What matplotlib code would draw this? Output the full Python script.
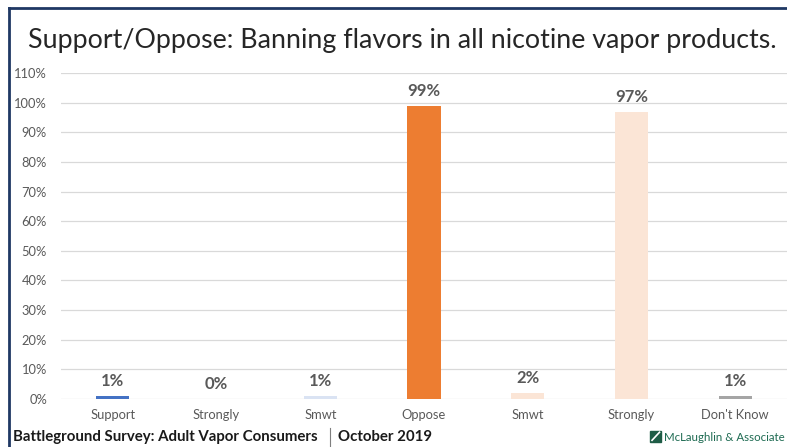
import matplotlib.pyplot as plt
from matplotlib.lines import Line2D
from matplotlib.patches import Rectangle

categories = ["Support", "Strongly", "Smwt", "Oppose", "Smwt", "Strongly", "Don't Know"]
values = [1, 0, 1, 99, 2, 97, 1]
bar_colors = ["#4472C4", "#2F5597", "#DAE3F3", "#ED7D31", "#FBE5D6", "#FBE5D6", "#A5A5A5"]
yticks = list(range(0, 111, 10))

plt.rcParams['font.family'] = ['Lato', 'DejaVu Sans']

fig = plt.figure(figsize=(7.87, 4.47), dpi=100)
ax = fig.add_axes([0.0775, 0.1074, 0.9225, 0.7293])

x = range(len(categories))
ax.bar(x, values, width=0.32, color=bar_colors, zorder=3)
for i, v in enumerate(values):
    ax.text(i, v + 2.3, f"{v}%", ha='center', va='bottom', fontsize=12,
            fontweight='bold', color='#595959', zorder=4)

ax.set_xlim(-0.5, len(categories) - 0.5)
ax.set_ylim(0, 110)
ax.set_yticks(yticks)
ax.set_yticklabels([f"{t}%" for t in yticks])
ax.set_xticks(list(x))
ax.set_xticklabels(categories)
ax.tick_params(axis='both', length=0, colors='#595959', labelsize=9.3)
ax.tick_params(axis='y', pad=10)
ax.tick_params(axis='x', pad=7)
ax.grid(axis='y', color='#D9D9D9', linewidth=0.9, zorder=0)
for s in ax.spines.values():
    s.set_visible(False)

# title
fig.text(0.5115, 0.91, "Support/Oppose: Banning flavors in all nicotine vapor products.",
         ha='center', va='center', fontsize=19.3, color='#262626')

# navy frame on left and top
fig.add_artist(Line2D([0.0115, 0.0115], [0.0, 0.982], color='#1F3864', lw=2))
fig.add_artist(Line2D([0.0115, 1.0], [0.982, 0.982], color='#1F3864', lw=2))

# footer
fig.text(0.017, 0.022, "Battleground Survey: Adult Vapor Consumers", ha='left', va='center',
         fontsize=10.8, fontweight='bold', color='#1a1a1a')
fig.add_artist(Line2D([0.4195, 0.4195], [0.003, 0.043], color='#7F7F7F', lw=0.8))
fig.text(0.4295, 0.022, "October 2019", ha='left', va='center',
         fontsize=10.8, fontweight='bold', color='#1a1a1a')
fig.add_artist(Rectangle((0.8265, 0.012), 0.0135, 0.024, color='#1E5C46'))
fig.add_artist(Line2D([0.8285, 0.838], [0.015, 0.033], color='white', lw=1.2))
fig.text(0.8435, 0.022, "McLaughlin & Associate", ha='left', va='center',
         fontsize=8.3, color='#1E6B52')

fig.savefig("out.png", dpi=100)
